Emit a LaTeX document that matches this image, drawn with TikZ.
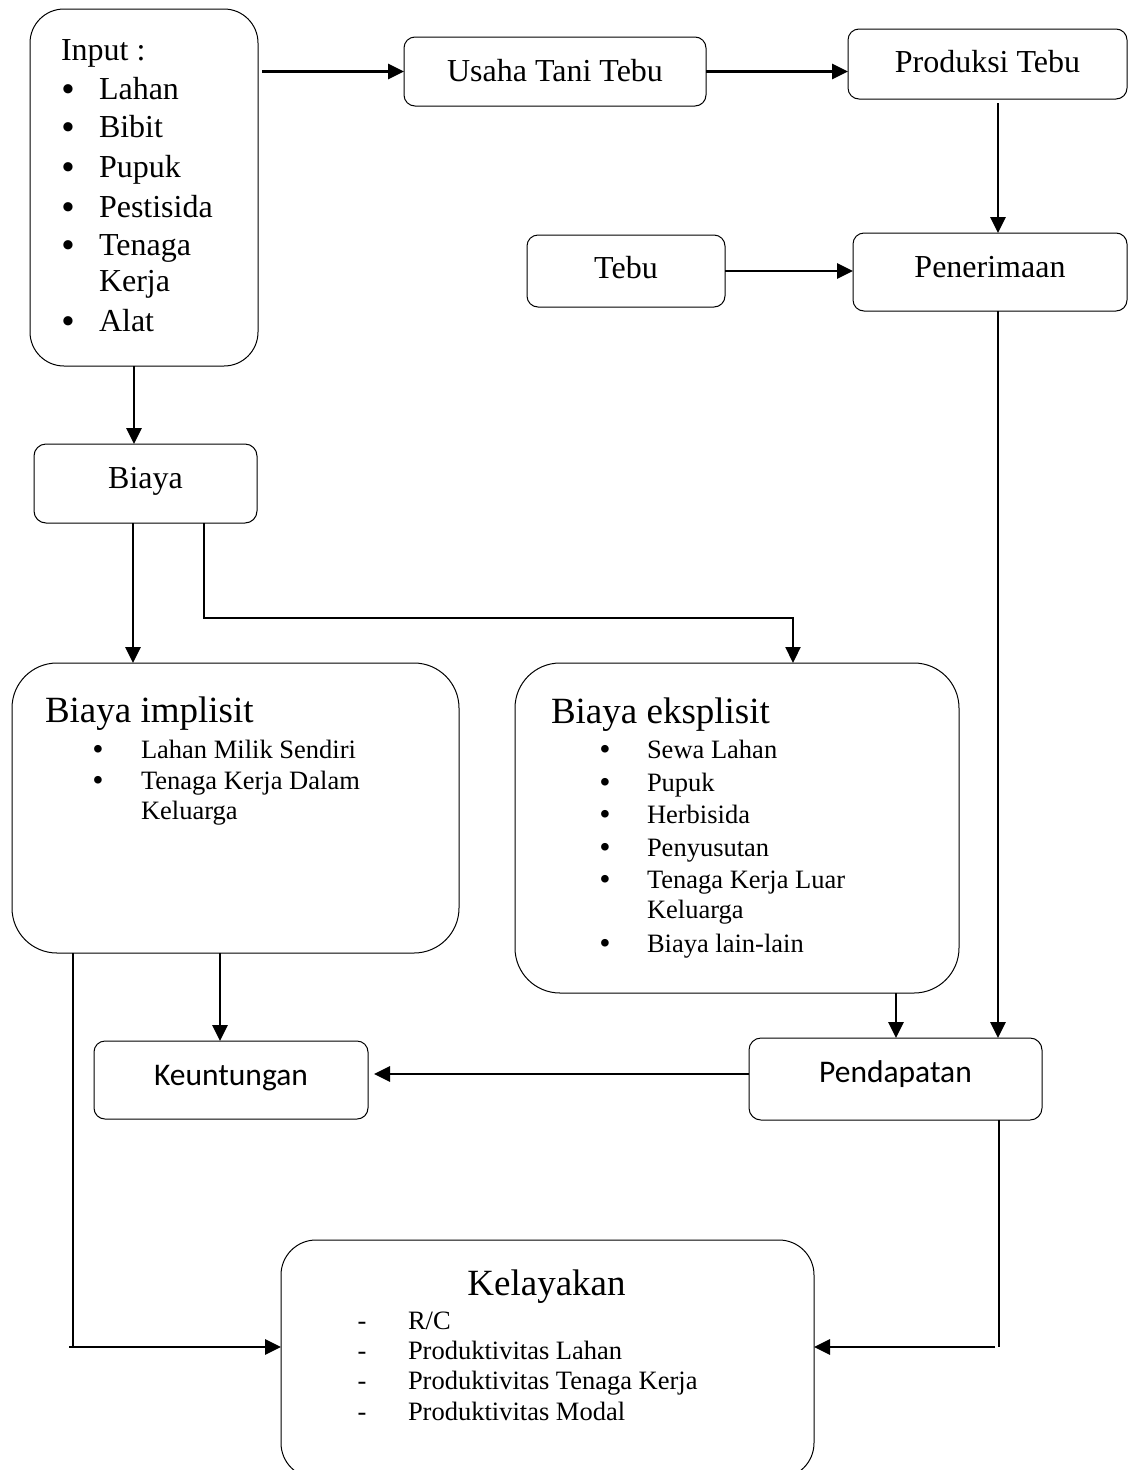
\documentclass[tikz,border=0pt]{standalone}
\usepackage{fontspec}
\setmainfont{Liberation Serif}
\newfontfamily\calib{Carlito}
\usetikzlibrary{arrows.meta}
\begin{document}
\begin{tikzpicture}[x=1pt,y=-1pt,
  box/.style={draw, line width=1pt, rounded corners=#1, inner sep=0pt, outer sep=0pt},
  box/.default=11pt,
  lbl/.style={inner sep=0pt, outer sep=0pt},
  big/.style={lbl, font=\fontsize{32}{38}\selectfont},
  bigdot/.style={lbl, font=\bfseries\fontsize{34}{38}\selectfont},
  ttl/.style={lbl, font=\fontsize{37}{44}\selectfont},
  itm/.style={lbl, font=\fontsize{26.5}{31}\selectfont},
  itmdot/.style={lbl, font=\bfseries\fontsize{28}{31}\selectfont},
  cal/.style={lbl, font=\calib\fontsize{31.5}{38}\selectfont},
  arr/.style={line width=2.8pt, -{Triangle[length=16pt,width=15pt]}},
  arrthin/.style={line width=2.2pt, -{Triangle[length=16pt,width=15pt]}},
  ln/.style={line width=2.4pt},
  thinln/.style={line width=1.5pt}]
\useasboundingbox (0,0) rectangle (1128,1470);
\fill[white] (0,0) rectangle (1128,1470);
\clip (0,0) rectangle (1128,1470);

% boxes
\node[box=34pt, minimum width=228pt, minimum height=357pt] (input) at (144,187.5) {};
\node[box, minimum width=302pt, minimum height=69pt] (usaha) at (555,71.5) {};
\node[box, minimum width=279pt, minimum height=70pt] (produksi) at (987.5,64) {};
\node[box, minimum width=198pt, minimum height=72pt] (tebu) at (626,271) {};
\node[box, minimum width=274pt, minimum height=78pt] (pener) at (990,272) {};
\node[box=12pt, minimum width=223pt, minimum height=79pt] (biaya) at (145.5,483.5) {};
\node[box=45pt, minimum width=447pt, minimum height=290pt] (impl) at (235.5,808) {};
\node[box=45pt, minimum width=444pt, minimum height=330pt] (eksp) at (737,828) {};
\node[box, minimum width=274pt, minimum height=78pt] (keunt) at (231,1080) {};
\node[box=12pt, minimum width=293pt, minimum height=82pt] (pend) at (895.5,1079) {};
\node[box=35pt, minimum width=533pt, minimum height=238pt] (kelay) at (547.5,1359) {};

% box labels
\node[big, anchor=base] (tusaha) at ([yshift=-9.5pt]usaha.center) {Usaha Tani Tebu};
\node[big, anchor=base] (tprod) at ([yshift=-8pt]produksi.center) {Produksi Tebu};
\node[big, anchor=base] (ttebu) at ([yshift=-7pt]tebu.center) {Tebu};
\node[big, anchor=base] (tpener) at ([yshift=-5pt]pener.center) {Penerimaan};
\node[big, anchor=base] (tbiaya) at ([yshift=-4.5pt]biaya.center) {Biaya};
\node[cal, anchor=base] (tkeunt) at ([yshift=-5pt]keunt.center) {Keuntungan};
\node[cal, anchor=base] (tpend) at ([yshift=-3pt]pend.center) {Pendapatan};

% input list
\node[big, anchor=base west] (tinput) at (61,60) {Input :};
\foreach \t/\y/\n in {Lahan/99/a, Bibit/137/b, Pupuk/177/c, Pestisida/217/d, Tenaga/255/e, Alat/331/f}{
  \node[bigdot, anchor=base] (ib\n) at (68,\y+1) {\textbullet};
  \node[big, anchor=base west] (it\n) at (99,\y) {\t};
}
\node[big, anchor=base west] (itkerja) at (99,291) {Kerja};

% biaya implisit
\node[ttl, anchor=base west] (timpl) at (45,722) {Biaya implisit};
\foreach \t/\y/\n in {Lahan Milik Sendiri/758/a, Tenaga Kerja Dalam/789/b}{
  \node[itmdot, anchor=base] (mb\n) at (98,\y+0.5) {\textbullet};
  \node[itm, anchor=base west] (mt\n) at (141,\y) {\t};
}
\node[itm, anchor=base west] (mtk) at (141,819) {Keluarga};

% biaya eksplisit
\node[ttl, anchor=base west] (teksp) at (551,723) {Biaya eksplisit};
\foreach \t/\y/\n in {Sewa Lahan/758/a, Pupuk/791/b, Herbisida/823/c, Penyusutan/856/d, Tenaga Kerja Luar/888/e, Biaya lain-lain/952/f}{
  \node[itmdot, anchor=base] (eb\n) at (605,\y+0.5) {\textbullet};
  \node[itm, anchor=base west] (et\n) at (647,\y) {\t};
}
\node[itm, anchor=base west] (etk) at (647,918) {Keluarga};

% kelayakan
\node[ttl, anchor=base] (tkelay) at (546.5,1295) {Kelayakan};
\foreach \t/\y/\n in {{R/C}/1329/a, {Produktivitas Lahan}/1359/b, {Produktivitas Tenaga Kerja}/1389/c, {Produktivitas Modal}/1420/d}{
  \node[itm, anchor=base] (kd\n) at (362,\y) {-};
  \node[itm, anchor=base west] (kt\n) at (408,\y) {\t};
}

% connectors
\draw[arr] ([xshift=4pt]input.east |- usaha.west) -- (usaha.west);
\draw[arr] (usaha.east) -- (usaha.east -| produksi.west);
\draw[arr] ([shift={(10.5,4)}]produksi.south) -- ([xshift=10.5pt]produksi.south |- pener.north);
\draw[arr] (tebu.east) -- (tebu.east -| pener.west);
\draw[arr] ([xshift=8pt]pener.south) -- ([xshift=8pt]pener.south |- pend.north);
\draw[arr] ([xshift=-10pt]input.south) -- ([xshift=-10pt]input.south |- biaya.north);
\draw[arr] ([xshift=-12.5pt]biaya.south) -- ([xshift=-12.5pt]biaya.south |- impl.north);
\draw[arrthin] ([xshift=58.5pt]biaya.south) -- ++(0,95) -| ([xshift=56pt]eksp.north);
\draw[arr] ([xshift=-15.5pt]impl.south) -- ([xshift=-15.5pt]impl.south |- keunt.north);
\draw[arr] ([xshift=159pt]eksp.south) -- ([xshift=159pt]eksp.south |- pend.north);
\draw[arr, shorten >=6pt] ([yshift=5pt]pend.west) -- ([yshift=5pt]pend.west -| keunt.east);
\coordinate (c1) at (73,1347);
\coordinate (c2) at (999,1347);
\draw[thinln] (impl.south -| c1) -- (c1);
\draw[arr] ([xshift=-4pt]c1) -- (c1 -| kelay.west);
\draw[ln] (pend.south -| c2) -- (c2);
\draw[arr] ([xshift=-4pt]c2) -- (c2 -| kelay.east);
\end{tikzpicture}
\end{document}
